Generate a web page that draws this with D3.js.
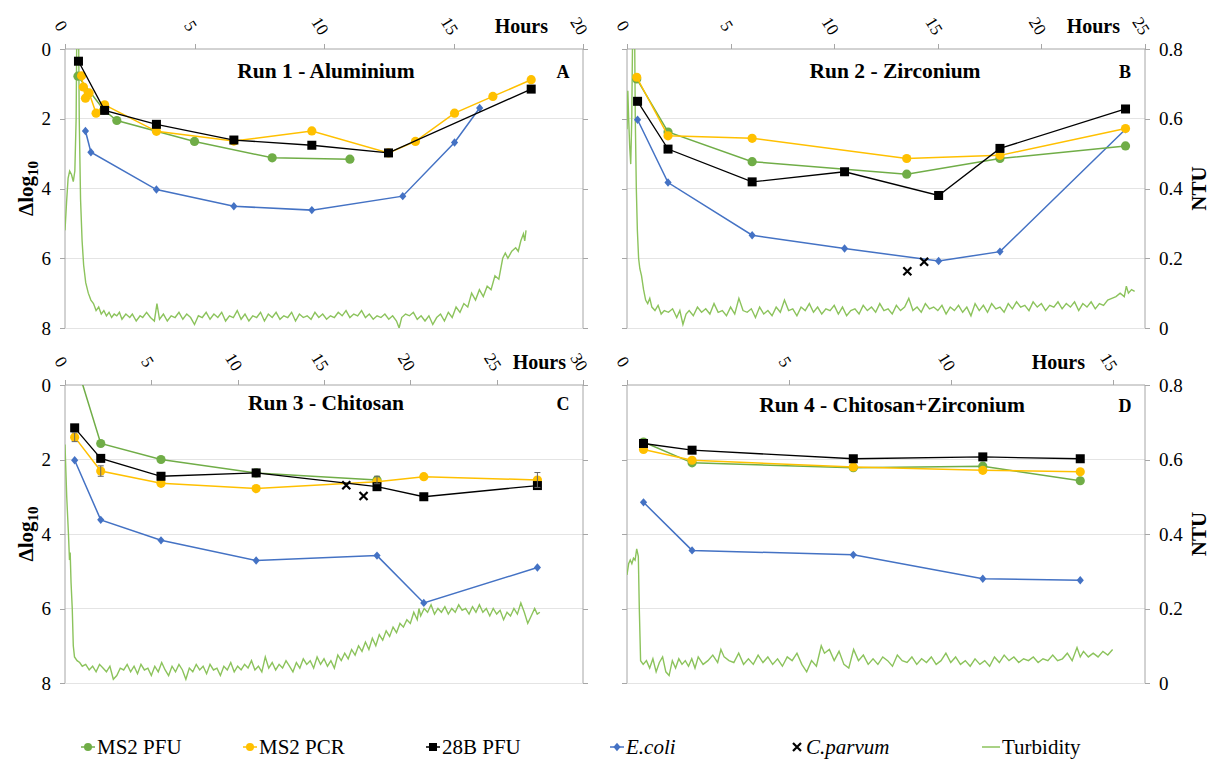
<!DOCTYPE html>
<html lang="en">
<head>
<meta charset="UTF-8" />
<title>Log removal and turbidity, runs 1-4</title>
<script src="https://d3js.org/d3.v7.min.js"></script>
<style>
  body { margin: 0; background: #fff; }
  .axis line { stroke: #a6a6a6; shape-rendering: crispEdges; }
  .grid line { stroke: #e4e4e4; shape-rendering: crispEdges; }
</style>
</head>
<body>
<div id="chart"></div>
<script>
// ---- chart values ----
const runTitles = ['Run 1 - Aluminium', 'Run 2 - Zirconium', 'Run 3 - Chitosan', 'Run 4 - Chitosan+Zirconium'];
const runLetters = ['A', 'B', 'C', 'D'];
const hoursMax = [20, 25, 30, 16];
const hourTicks = [[0, 5, 10, 15, 20], [0, 5, 10, 15, 20, 25], [0, 5, 10, 15, 20, 25, 30], [0, 5, 10, 15]];
const logTicks = [0, 2, 4, 6, 8];
const ntuTicks = [0, 0.2, 0.4, 0.6, 0.8];
const legendNames = ['MS2 PFU', 'MS2 PCR', '28B PFU', 'E.coli', 'C.parvum', 'Turbidity'];

// [hours, delta log10]
const ms2PfuA = [[0.5, 0.78], [1.5, 1.75], [2.0, 2.05], [5.0, 2.65], [8.0, 3.12], [11.0, 3.16]];
const ms2PcrA = [[0.64, 0.77], [0.71, 1.09], [0.79, 1.41], [0.93, 1.26], [1.2, 1.84], [1.53, 1.6], [3.53, 2.36], [6.52, 2.64], [9.53, 2.35], [12.49, 2.98], [13.53, 2.65], [15.04, 1.84], [16.52, 1.36], [18.0, 0.88]];
const b28PfuA = [[0.52, 0.35], [1.53, 1.76], [3.53, 2.16], [6.52, 2.61], [9.53, 2.76], [12.49, 2.98], [18.0, 1.15]];
const ecoliA = [[0.79, 2.35], [1.0, 2.96], [3.53, 4.03], [6.52, 4.51], [9.53, 4.62], [13.04, 4.22], [15.04, 2.68], [16.01, 1.69]];
const parvumA = [];

const ms2PfuB = [[0.47, 0.86], [1.98, 2.38], [6.04, 3.23], [13.5, 3.59], [18.0, 3.14], [24.06, 2.78]];
const ms2PcrB = [[0.47, 0.81], [1.98, 2.49], [6.04, 2.56], [13.5, 3.14], [18.0, 3.05], [24.06, 2.28]];
const b28PfuB = [[0.51, 1.5], [1.98, 2.87], [6.04, 3.81], [10.5, 3.52], [15.04, 4.2], [18.0, 2.85], [24.06, 1.72]];
const ecoliB = [[0.51, 2.03], [1.98, 3.83], [6.04, 5.34], [10.5, 5.72], [15.04, 6.08], [18.0, 5.81], [24.06, 2.3]];
const parvumB = [[13.53, 6.37], [14.34, 6.1]];

const ms2PfuC = [[0.5, -0.8], [2.07, 1.57], [5.56, 2.0], [11.07, 2.36], [18.07, 2.55]];
const ms2PcrC = [[0.56, 1.4], [2.07, 2.31], [5.56, 2.64], [11.07, 2.78], [18.07, 2.6], [20.78, 2.46], [27.36, 2.55]];
const b28PfuC = [[0.56, 1.15], [2.07, 1.97], [5.56, 2.45], [11.07, 2.36], [18.07, 2.73], [20.78, 3.0], [27.36, 2.7]];
const ecoliC = [[0.56, 2.02], [2.07, 3.62], [5.56, 4.17], [11.07, 4.71], [18.07, 4.58], [20.78, 5.85], [27.36, 4.9]];
const parvumC = [[16.29, 2.69], [17.29, 2.98]];
// [hours, value, error]
const errBarsC = [[0.56, 1.4, 0.12], [2.07, 2.31, 0.14], [18.07, 2.55, 0.1], [27.36, 2.55, 0.2]];

const ms2PfuD = [[0.51, 1.53], [2.01, 2.09], [6.99, 2.22], [10.99, 2.18], [14.0, 2.57]];
const ms2PcrD = [[0.51, 1.73], [2.01, 2.02], [6.99, 2.2], [10.99, 2.29], [14.0, 2.33]];
const b28PfuD = [[0.51, 1.57], [2.01, 1.75], [6.99, 1.98], [10.99, 1.93], [14.0, 1.98]];
const ecoliD = [[0.51, 3.15], [2.01, 4.44], [6.99, 4.56], [10.99, 5.2], [14.0, 5.24]];
const parvumD = [];

// [hours, NTU]
const turbA = [[0,0.28],[0.06,0.36],[0.12,0.43],[0.18,0.45],[0.25,0.44],[0.32,0.42],[0.38,0.45],[0.43,0.6],[0.46,0.9],[0.52,0.9],[0.55,0.6],[0.6,0.37],[0.66,0.25],[0.72,0.18],[0.8,0.13],[0.9,0.1],[1.0,0.08],[1.1,0.07],[1.2,0.05],[1.3,0.06],[1.4,0.04],[1.5,0.05],[1.6,0.035],[1.7,0.045],[1.8,0.03],[1.9,0.04],[2.0,0.035],[2.1,0.045],[2.2,0.025],[2.35,0.04],[2.5,0.03],[2.6,0.04],[2.75,0.02],[2.9,0.035],[3.0,0.03],[3.15,0.045],[3.3,0.03],[3.45,0.02],[3.55,0.07],[3.65,0.025],[3.8,0.04],[3.95,0.02],[4.1,0.035],[4.25,0.03],[4.4,0.045],[4.55,0.025],[4.7,0.04],[4.85,0.03],[5.0,0.01],[5.15,0.035],[5.3,0.03],[5.45,0.045],[5.6,0.025],[5.75,0.04],[5.9,0.03],[6.05,0.045],[6.2,0.02],[6.35,0.035],[6.5,0.03],[6.65,0.05],[6.8,0.025],[6.95,0.04],[7.1,0.02],[7.25,0.035],[7.4,0.03],[7.55,0.045],[7.7,0.02],[7.85,0.04],[8.0,0.03],[8.15,0.045],[8.3,0.025],[8.45,0.035],[8.6,0.03],[8.75,0.045],[8.9,0.02],[9.05,0.04],[9.2,0.03],[9.35,0.035],[9.5,0.025],[9.65,0.045],[9.8,0.03],[9.95,0.04],[10.1,0.025],[10.25,0.035],[10.4,0.03],[10.55,0.045],[10.7,0.035],[10.85,0.05],[11.0,0.03],[11.15,0.04],[11.3,0.035],[11.45,0.05],[11.6,0.03],[11.75,0.04],[11.9,0.025],[12.05,0.035],[12.2,0.03],[12.35,0.04],[12.5,0.025],[12.65,0.035],[12.8,0.02],[12.9,0.0],[13.0,0.03],[13.15,0.04],[13.3,0.035],[13.45,0.045],[13.6,0.025],[13.75,0.035],[13.9,0.02],[14.05,0.035],[14.2,0.01],[14.35,0.03],[14.5,0.04],[14.65,0.02],[14.8,0.045],[14.95,0.03],[15.1,0.06],[15.25,0.045],[15.4,0.07],[15.55,0.06],[15.7,0.1],[15.85,0.08],[16.0,0.11],[16.15,0.09],[16.3,0.12],[16.45,0.11],[16.6,0.15],[16.75,0.14],[16.9,0.2],[17.0,0.215],[17.1,0.2],[17.25,0.22],[17.4,0.23],[17.5,0.22],[17.6,0.25],[17.7,0.27],[17.75,0.25],[17.8,0.28]];
const turbB = [[0,0.57],[0.04,0.68],[0.08,0.6],[0.13,0.52],[0.18,0.47],[0.23,0.6],[0.28,0.9],[0.36,0.9],[0.4,0.6],[0.45,0.4],[0.5,0.28],[0.56,0.2],[0.62,0.17],[0.7,0.15],[0.8,0.11],[0.9,0.08],[1.0,0.07],[1.1,0.085],[1.2,0.06],[1.35,0.05],[1.5,0.065],[1.65,0.04],[1.8,0.05],[2.0,0.045],[2.2,0.055],[2.4,0.03],[2.55,0.05],[2.7,0.01],[2.85,0.04],[3.0,0.05],[3.2,0.035],[3.4,0.06],[3.6,0.045],[3.8,0.055],[4.0,0.04],[4.2,0.07],[4.4,0.045],[4.6,0.05],[4.8,0.035],[5.0,0.06],[5.2,0.04],[5.4,0.085],[5.6,0.05],[5.8,0.045],[6.0,0.055],[6.2,0.03],[6.4,0.06],[6.6,0.04],[6.8,0.05],[7.0,0.035],[7.2,0.06],[7.4,0.045],[7.6,0.08],[7.8,0.05],[8.0,0.055],[8.2,0.035],[8.4,0.06],[8.6,0.05],[8.8,0.07],[9.0,0.045],[9.2,0.06],[9.4,0.04],[9.6,0.055],[9.8,0.05],[10.0,0.065],[10.2,0.04],[10.4,0.06],[10.6,0.035],[10.8,0.05],[11.0,0.055],[11.2,0.04],[11.4,0.065],[11.6,0.05],[11.8,0.06],[12.0,0.045],[12.2,0.07],[12.4,0.05],[12.6,0.055],[12.8,0.04],[13.0,0.065],[13.2,0.05],[13.4,0.06],[13.6,0.085],[13.8,0.05],[14.0,0.06],[14.2,0.045],[14.4,0.07],[14.6,0.055],[14.8,0.06],[15.0,0.05],[15.2,0.065],[15.4,0.04],[15.6,0.06],[15.8,0.05],[16.0,0.065],[16.2,0.045],[16.4,0.06],[16.6,0.035],[16.8,0.07],[17.0,0.05],[17.2,0.065],[17.4,0.045],[17.6,0.07],[17.8,0.055],[18.0,0.06],[18.2,0.045],[18.4,0.07],[18.6,0.055],[18.8,0.075],[19.0,0.06],[19.2,0.065],[19.4,0.05],[19.6,0.075],[19.8,0.06],[20.0,0.07],[20.2,0.05],[20.4,0.065],[20.6,0.06],[20.8,0.075],[21.0,0.055],[21.2,0.07],[21.4,0.06],[21.6,0.075],[21.8,0.05],[22.0,0.07],[22.2,0.06],[22.4,0.075],[22.6,0.055],[22.8,0.07],[23.0,0.065],[23.2,0.08],[23.4,0.085],[23.6,0.09],[23.8,0.1],[24.0,0.09],[24.1,0.12],[24.2,0.1],[24.35,0.11],[24.5,0.105]];
const turbC = [[0,0.64],[0.1,0.5],[0.2,0.4],[0.26,0.33],[0.3,0.35],[0.35,0.27],[0.42,0.2],[0.48,0.1],[0.55,0.07],[0.7,0.06],[0.85,0.055],[1.0,0.045],[1.2,0.05],[1.4,0.035],[1.6,0.045],[1.8,0.03],[2.0,0.05],[2.2,0.04],[2.4,0.03],[2.6,0.045],[2.8,0.01],[3.0,0.02],[3.2,0.04],[3.4,0.035],[3.6,0.05],[3.8,0.03],[4.0,0.045],[4.2,0.025],[4.4,0.05],[4.6,0.035],[4.8,0.04],[5.0,0.02],[5.2,0.045],[5.4,0.03],[5.6,0.055],[5.8,0.035],[6.0,0.02],[6.2,0.045],[6.4,0.03],[6.6,0.05],[6.8,0.035],[7.0,0.01],[7.2,0.04],[7.4,0.03],[7.6,0.05],[7.8,0.035],[8.0,0.045],[8.2,0.025],[8.4,0.05],[8.6,0.035],[8.8,0.04],[9.0,0.02],[9.2,0.045],[9.4,0.035],[9.6,0.055],[9.8,0.03],[10.0,0.045],[10.2,0.035],[10.4,0.05],[10.6,0.04],[10.8,0.06],[11.0,0.035],[11.2,0.045],[11.4,0.03],[11.6,0.07],[11.8,0.04],[12.0,0.055],[12.2,0.035],[12.4,0.05],[12.6,0.04],[12.8,0.06],[13.0,0.045],[13.2,0.03],[13.4,0.055],[13.6,0.04],[13.8,0.065],[14.0,0.05],[14.2,0.06],[14.4,0.04],[14.6,0.07],[14.8,0.05],[15.0,0.065],[15.2,0.045],[15.4,0.06],[15.6,0.04],[15.8,0.075],[16.0,0.06],[16.2,0.08],[16.4,0.065],[16.6,0.09],[16.8,0.075],[17.0,0.1],[17.2,0.085],[17.4,0.11],[17.6,0.09],[17.8,0.12],[18.0,0.1],[18.2,0.13],[18.4,0.115],[18.6,0.14],[18.8,0.125],[19.0,0.15],[19.2,0.135],[19.4,0.16],[19.6,0.15],[19.8,0.17],[20.0,0.16],[20.2,0.19],[20.4,0.17],[20.5,0.2],[20.6,0.18],[20.8,0.2],[21.0,0.19],[21.2,0.21],[21.4,0.185],[21.6,0.2],[21.8,0.19],[22.0,0.205],[22.2,0.185],[22.4,0.2],[22.6,0.19],[22.8,0.21],[23.0,0.195],[23.2,0.2],[23.4,0.185],[23.6,0.205],[23.8,0.19],[24.0,0.21],[24.2,0.19],[24.4,0.2],[24.6,0.18],[24.8,0.2],[25.0,0.185],[25.2,0.195],[25.4,0.17],[25.6,0.19],[25.8,0.18],[26.0,0.2],[26.2,0.185],[26.4,0.215],[26.6,0.19],[26.8,0.16],[27.0,0.18],[27.2,0.2],[27.35,0.185],[27.5,0.19]];
const turbD = [[0,0.29],[0.05,0.32],[0.1,0.33],[0.15,0.32],[0.2,0.335],[0.25,0.33],[0.3,0.36],[0.35,0.34],[0.38,0.2],[0.42,0.06],[0.5,0.05],[0.6,0.06],[0.7,0.04],[0.8,0.065],[0.9,0.03],[1.0,0.055],[1.1,0.07],[1.2,0.03],[1.3,0.02],[1.4,0.06],[1.5,0.04],[1.6,0.065],[1.7,0.05],[1.8,0.06],[1.9,0.045],[2.0,0.065],[2.1,0.04],[2.2,0.07],[2.35,0.05],[2.5,0.06],[2.65,0.075],[2.8,0.055],[2.9,0.09],[3.0,0.07],[3.15,0.06],[3.3,0.055],[3.45,0.08],[3.6,0.05],[3.75,0.065],[3.9,0.05],[4.05,0.075],[4.2,0.055],[4.35,0.07],[4.5,0.05],[4.65,0.065],[4.8,0.045],[4.95,0.07],[5.1,0.06],[5.25,0.08],[5.4,0.05],[5.55,0.03],[5.7,0.06],[5.85,0.045],[6.0,0.1],[6.1,0.08],[6.25,0.09],[6.4,0.06],[6.55,0.085],[6.7,0.05],[6.85,0.04],[7.0,0.09],[7.15,0.06],[7.3,0.075],[7.45,0.05],[7.6,0.065],[7.75,0.05],[7.9,0.07],[8.05,0.06],[8.2,0.045],[8.35,0.075],[8.5,0.06],[8.65,0.055],[8.8,0.07],[8.95,0.05],[9.1,0.065],[9.25,0.055],[9.4,0.07],[9.55,0.05],[9.7,0.06],[9.85,0.08],[10.0,0.055],[10.15,0.07],[10.3,0.05],[10.45,0.06],[10.6,0.045],[10.75,0.065],[10.9,0.05],[11.05,0.06],[11.2,0.045],[11.35,0.07],[11.5,0.055],[11.65,0.075],[11.8,0.06],[11.95,0.07],[12.1,0.055],[12.25,0.065],[12.4,0.06],[12.55,0.07],[12.7,0.055],[12.85,0.065],[13.0,0.06],[13.15,0.075],[13.3,0.06],[13.45,0.065],[13.6,0.08],[13.75,0.06],[13.9,0.095],[14.0,0.07],[14.1,0.085],[14.25,0.07],[14.4,0.08],[14.55,0.07],[14.7,0.085],[14.85,0.075],[15.0,0.09]];

// ---- layout ----
const W = 1211, H = 761;
const serif = "'Liberation Serif', 'Times New Roman', 'DejaVu Serif', serif";
const colors = { pfu: '#70ad47', pcr: '#ffc000', b28: '#000000', ecoli: '#4472c4', parvum: '#000000', turb: '#8cc35c' };
const boxes = [
  { x0: 65, x1: 583, y0: 49, y1: 328, hoursX: 548, titleX: 326, titleY: 78 },
  { x0: 627, x1: 1145, y0: 49, y1: 328, hoursX: 1120, titleX: 895, titleY: 78 },
  { x0: 65, x1: 583, y0: 385, y1: 683, hoursX: 566, titleX: 326, titleY: 410 },
  { x0: 627, x1: 1145, y0: 385, y1: 683, hoursX: 1085, titleX: 892, titleY: 412 },
];
const runs = [
  { pfu: ms2PfuA, pcr: ms2PcrA, b28: b28PfuA, ecoli: ecoliA, parvum: parvumA, turb: turbA, err: [] },
  { pfu: ms2PfuB, pcr: ms2PcrB, b28: b28PfuB, ecoli: ecoliB, parvum: parvumB, turb: turbB, err: [] },
  { pfu: ms2PfuC, pcr: ms2PcrC, b28: b28PfuC, ecoli: ecoliC, parvum: parvumC, turb: turbC, err: errBarsC },
  { pfu: ms2PfuD, pcr: ms2PcrD, b28: b28PfuD, ecoli: ecoliD, parvum: parvumD, turb: turbD, err: [] },
];

const svg = d3.select('#chart').append('svg').attr('width', W).attr('height', H)
  .attr('font-family', serif);

function label(g, size, bold) {
  return g.append('text').style('font-family', serif).style('font-size', size + 'px')
    .style('font-weight', bold ? 'bold' : 'normal').attr('fill', '#000');
}
function diamond(g, cx, cy, color) {
  g.append('path')
    .attr('d', `M${cx},${cy - 4.2}L${cx + 3.6},${cy}L${cx},${cy + 4.2}L${cx - 3.6},${cy}Z`)
    .attr('fill', color);
}
function cross(g, cx, cy) {
  g.append('path')
    .attr('d', `M${cx - 4},${cy - 4}L${cx + 4},${cy + 4}M${cx - 4},${cy + 4}L${cx + 4},${cy - 4}`)
    .attr('stroke', '#000').attr('stroke-width', 2.2);
}

boxes.forEach((b, i) => {
  const run = runs[i];
  const g = svg.append('g');
  const x = d3.scaleLinear().domain([0, hoursMax[i]]).range([b.x0, b.x1]);
  const y = d3.scaleLinear().domain([0, 8]).range([b.y0, b.y1]);
  const yN = d3.scaleLinear().domain([0, 0.8]).range([b.y1, b.y0]);

  // gridlines
  g.append('g').attr('class', 'grid')
    .selectAll('line').data(logTicks.slice(1)).join('line')
    .attr('x1', b.x0).attr('x2', b.x1)
    .attr('y1', d => y(d)).attr('y2', d => y(d));

  // top (hours) axis
  g.append('g').attr('class', 'axis')
    .attr('transform', `translate(0,${b.y0})`)
    .call(d3.axisTop(x).tickValues(hourTicks[i]).tickSize(5).tickSizeOuter(0).tickFormat(''));
  hourTicks[i].forEach(d => {
    label(g, 17, false)
      .attr('transform', `translate(${x(d) - 4},${b.y0 - 23}) rotate(58)`)
      .attr('text-anchor', 'middle').attr('dominant-baseline', 'central').text(d);
  });
  label(g, 20, true).attr('x', b.hoursX).attr('y', b.y0 - 16)
    .attr('text-anchor', 'end').text('Hours');

  // left (log) axis
  const leftAxis = d3.axisLeft(y).tickValues(logTicks).tickSize(5).tickSizeOuter(0).tickPadding(9);
  const la = g.append('g').attr('class', 'axis').attr('transform', `translate(${b.x0},0)`).call(leftAxis);
  la.attr('font-family', null);
  la.selectAll('text').style('font-family', serif).style('font-size', '19px').attr('fill', '#000');
  if (i % 2 === 1) la.selectAll('text').remove();

  // right (NTU) axis
  const rightAxis = d3.axisRight(yN).tickValues(ntuTicks).tickSize(5).tickSizeOuter(0).tickPadding(9)
    .tickFormat(d => d === 0 ? '0' : d3.format('.1f')(d));
  const ra = g.append('g').attr('class', 'axis').attr('transform', `translate(${b.x1},0)`).call(rightAxis);
  ra.attr('font-family', null);
  ra.selectAll('text').style('font-family', serif).style('font-size', '19px').attr('fill', '#000');
  if (i % 2 === 0) ra.selectAll('text').remove();
  g.selectAll('.domain').remove();
  g.append('line').attr('x1', b.x0).attr('x2', b.x1).attr('y1', b.y0).attr('y2', b.y0).attr('stroke', '#a6a6a6');
  g.append('line').attr('x1', b.x0).attr('x2', b.x0).attr('y1', b.y0).attr('y2', b.y1).attr('stroke', '#a6a6a6');
  g.append('line').attr('x1', b.x1).attr('x2', b.x1).attr('y1', b.y0).attr('y2', b.y1).attr('stroke', '#a6a6a6');

  // titles
  label(g, 21.5, true).attr('x', b.titleX).attr('y', b.titleY).attr('text-anchor', 'middle').text(runTitles[i]);
  label(g, 18, true).attr('x', b.x1 - 20).attr('y', b.titleY).attr('text-anchor', 'middle').text(runLetters[i]);

  // axis titles
  const cy = (b.y0 + b.y1) / 2;
  if (i % 2 === 0) {
    const t = label(g, 21, true).attr('transform', `translate(33,${cy}) rotate(-90)`).attr('text-anchor', 'middle');
    t.append('tspan').text('\u0394log');
    t.append('tspan').attr('dy', 5).style('font-size', '15px').text('10');
  } else {
    label(g, 21, true).attr('transform', `translate(1206,${cy}) rotate(-90)`)
      .attr('text-anchor', 'middle').text('NTU');
  }

  // plotted data
  const clipId = 'clip' + i;
  svg.append('clipPath').attr('id', clipId).append('rect')
    .attr('x', b.x0).attr('y', b.y0).attr('width', b.x1 - b.x0).attr('height', b.y1 - b.y0);
  const plot = g.append('g').attr('clip-path', `url(#${clipId})`);

  const turbLine = d3.line().x(d => x(d[0])).y(d => yN(d[1]));
  plot.append('path').datum(run.turb).attr('d', turbLine)
    .attr('fill', 'none').attr('stroke', colors.turb).attr('stroke-width', 1.4);

  const logLine = d3.line().x(d => x(d[0])).y(d => y(d[1]));
  ['ecoli', 'pfu', 'pcr', 'b28'].forEach(key => {
    const pts = run[key];
    plot.append('path').datum(pts).attr('d', logLine)
      .attr('fill', 'none').attr('stroke', colors[key]).attr('stroke-width', key === 'b28' ? 1.3 : 1.5);
    pts.forEach(p => {
      const px = x(p[0]), py = y(p[1]);
      if (key === 'ecoli') diamond(plot, px, py, colors.ecoli);
      else if (key === 'b28') plot.append('rect').attr('x', px - 4.5).attr('y', py - 4.5)
        .attr('width', 9).attr('height', 9).attr('fill', '#000');
      else plot.append('circle').attr('cx', px).attr('cy', py).attr('r', 4.6).attr('fill', colors[key]);
    });
  });
  run.err.forEach(e => {
    const px = x(e[0]);
    plot.append('path')
      .attr('d', `M${px},${y(e[1] - e[2])}V${y(e[1] + e[2])}M${px - 3},${y(e[1] - e[2])}H${px + 3}M${px - 3},${y(e[1] + e[2])}H${px + 3}`)
      .attr('stroke', '#666').attr('stroke-width', 1).attr('fill', 'none');
  });
  run.parvum.forEach(p => cross(plot, x(p[0]), y(p[1])));
});

// legend
const legendX = [88, 250, 433, 617, 797, 982];
const ly = 747;
const lg = svg.append('g');
legendNames.forEach((name, k) => {
  const mx = legendX[k];
  if (k < 4) {
    const c = [colors.pfu, colors.pcr, colors.b28, colors.ecoli][k];
    lg.append('line').attr('x1', mx - 7).attr('x2', mx + 7).attr('y1', ly).attr('y2', ly)
      .attr('stroke', c).attr('stroke-width', 1.5);
    if (k < 2) lg.append('circle').attr('cx', mx).attr('cy', ly).attr('r', 4).attr('fill', c);
    else if (k === 2) lg.append('rect').attr('x', mx - 4).attr('y', ly - 4).attr('width', 8).attr('height', 8).attr('fill', c);
    else diamond(lg, mx, ly, c);
  } else if (k === 4) {
    cross(lg, mx, ly);
  } else {
    lg.append('line').attr('x1', mx).attr('x2', mx + 18).attr('y1', ly).attr('y2', ly)
      .attr('stroke', colors.turb).attr('stroke-width', 1.5);
  }
  label(lg, 21, false).attr('x', k === 5 ? mx + 20 : mx + 9).attr('y', ly + 7)
    .style('font-style', k === 3 || k === 4 ? 'italic' : 'normal')
    .text(name);
});
</script>
</body>
</html>
